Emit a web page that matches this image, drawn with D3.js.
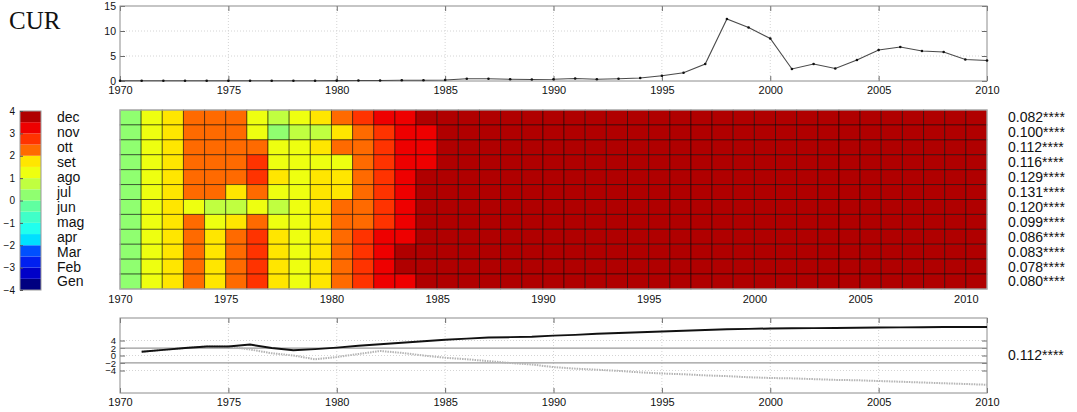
<!DOCTYPE html>
<html>
<head>
<meta charset="utf-8">
<script src="https://cdn.jsdelivr.net/npm/d3@7"></script>
<style>
  body { margin: 0; background: #fff; }
  svg { display: block; }
  text { font-family: "Liberation Sans", Arial, Helvetica, sans-serif; fill: #111; }
</style>
</head>
<body>
<svg id="chart" width="1077" height="412"></svg>
<script>
// ---- data -------------------------------------------------------------
const stationName = "CUR";

const years = d3.range(1970, 2011);                    // 1970 … 2010
const tickYears = [1970, 1975, 1980, 1985, 1990, 1995, 2000, 2005, 2010];

// annual series (top panel), 1970 … 2010
const annualValues = [
  0.05, 0.05, 0.05, 0.05, 0.05, 0.05, 0.05, 0.05, 0.05, 0.05,
  0.08, 0.10, 0.10, 0.15, 0.15, 0.20, 0.45, 0.45, 0.35, 0.30,
  0.35, 0.50, 0.35, 0.45, 0.60, 1.05, 1.65, 3.40, 12.4, 10.7,
  8.50, 2.40, 3.40, 2.50, 4.20, 6.20, 6.80, 6.00, 5.80, 4.30,
  4.10
];
const annualTicks = [0, 5, 10, 15];

// month rows of the heat map, top to bottom
const months = ["dec", "nov", "ott", "set", "ago", "jul", "jun", "mag", "apr", "Mar", "Feb", "Gen"];

// statistic per month (rows) and year (columns 1970 … 2010)
const monthlyStat = [
  [0.3,1.3,1.8,2.3,2.3,2.3,1.3,0.8,1.3,1.8,2.3,2.8,3.3,3.3,3.8, 3.8,3.8,3.8,3.8,3.8,3.8,3.8,3.8,3.8,3.8,3.8,3.8,3.8,3.8,3.8,3.8,3.8,3.8,3.8,3.8,3.8,3.8,3.8,3.8,3.8,3.8],
  [0.3,1.3,1.8,2.3,2.3,2.3,1.3,0.3,0.8,0.8,1.8,2.3,2.8,3.3,3.3, 3.8,3.8,3.8,3.8,3.8,3.8,3.8,3.8,3.8,3.8,3.8,3.8,3.8,3.8,3.8,3.8,3.8,3.8,3.8,3.8,3.8,3.8,3.8,3.8,3.8,3.8],
  [0.3,1.3,1.8,2.3,2.3,2.3,2.3,1.3,1.3,1.8,2.3,2.3,2.8,3.3,3.3, 3.8,3.8,3.8,3.8,3.8,3.8,3.8,3.8,3.8,3.8,3.8,3.8,3.8,3.8,3.8,3.8,3.8,3.8,3.8,3.8,3.8,3.8,3.8,3.8,3.8,3.8],
  [0.3,1.3,1.8,2.3,2.3,2.3,2.8,1.3,1.3,1.3,1.3,2.3,2.8,3.3,3.3, 3.8,3.8,3.8,3.8,3.8,3.8,3.8,3.8,3.8,3.8,3.8,3.8,3.8,3.8,3.8,3.8,3.8,3.8,3.8,3.8,3.8,3.8,3.8,3.8,3.8,3.8],
  [0.3,1.3,1.8,2.3,2.3,2.3,2.8,1.8,1.3,1.8,1.8,2.3,2.8,3.3,3.8, 3.8,3.8,3.8,3.8,3.8,3.8,3.8,3.8,3.8,3.8,3.8,3.8,3.8,3.8,3.8,3.8,3.8,3.8,3.8,3.8,3.8,3.8,3.8,3.8,3.8,3.8],
  [0.3,1.3,1.8,2.3,2.3,1.8,2.3,1.3,1.3,1.8,1.8,2.3,2.8,3.3,3.8, 3.8,3.8,3.8,3.8,3.8,3.8,3.8,3.8,3.8,3.8,3.8,3.8,3.8,3.8,3.8,3.8,3.8,3.8,3.8,3.8,3.8,3.8,3.8,3.8,3.8,3.8],
  [0.3,1.3,1.8,1.3,0.8,0.8,1.3,0.8,1.3,1.8,2.3,2.3,2.8,3.3,3.8, 3.8,3.8,3.8,3.8,3.8,3.8,3.8,3.8,3.8,3.8,3.8,3.8,3.8,3.8,3.8,3.8,3.8,3.8,3.8,3.8,3.8,3.8,3.8,3.8,3.8,3.8],
  [0.3,1.3,1.8,2.3,1.3,1.8,2.3,1.3,1.3,1.8,2.3,2.3,2.8,3.3,3.8, 3.8,3.8,3.8,3.8,3.8,3.8,3.8,3.8,3.8,3.8,3.8,3.8,3.8,3.8,3.8,3.8,3.8,3.8,3.8,3.8,3.8,3.8,3.8,3.8,3.8,3.8],
  [0.3,1.3,1.8,2.3,1.8,2.3,2.8,1.8,1.3,1.8,2.3,2.8,3.3,3.3,3.8, 3.8,3.8,3.8,3.8,3.8,3.8,3.8,3.8,3.8,3.8,3.8,3.8,3.8,3.8,3.8,3.8,3.8,3.8,3.8,3.8,3.8,3.8,3.8,3.8,3.8,3.8],
  [0.3,1.3,1.8,2.3,1.8,2.3,2.8,1.8,1.3,1.8,2.3,2.8,3.3,3.8,3.8, 3.8,3.8,3.8,3.8,3.8,3.8,3.8,3.8,3.8,3.8,3.8,3.8,3.8,3.8,3.8,3.8,3.8,3.8,3.8,3.8,3.8,3.8,3.8,3.8,3.8,3.8],
  [0.3,1.3,1.8,2.3,1.8,2.3,2.8,1.8,1.3,1.8,2.3,2.8,3.3,3.8,3.8, 3.8,3.8,3.8,3.8,3.8,3.8,3.8,3.8,3.8,3.8,3.8,3.8,3.8,3.8,3.8,3.8,3.8,3.8,3.8,3.8,3.8,3.8,3.8,3.8,3.8,3.8],
  [0.3,1.3,1.8,2.3,1.8,2.3,2.8,1.8,1.3,1.8,2.3,2.8,3.3,3.3,3.8, 3.8,3.8,3.8,3.8,3.8,3.8,3.8,3.8,3.8,3.8,3.8,3.8,3.8,3.8,3.8,3.8,3.8,3.8,3.8,3.8,3.8,3.8,3.8,3.8,3.8,3.8]
];
const monthlySlopes = ["0.082****", "0.100****", "0.112****", "0.116****", "0.129****", "0.131****",
                       "0.120****", "0.099****", "0.086****", "0.083****", "0.078****", "0.080****"];

// 16-step colour ramp for the range -4 … 4
const rampColors = [
  "#000080", "#0000c8", "#0020f0", "#0050ff", "#00e0ff", "#20ffee", "#40ffc8", "#60ffa0",
  "#90ff70", "#c0ff40", "#eeff10", "#ffe600", "#ff6a00", "#ff3300", "#ee0000", "#b00000"
];
const rampTicks = [4, 3, 2, 1, 0, -1, -2, -3, -4];

// sequential test series (bottom panel), 1971 … 2010
const seqYears = d3.range(1971, 2011);
const progressive = [
  1.0, 1.5, 2.0, 2.4, 2.4, 2.9, 2.0, 1.4, 1.7, 2.1,
  2.6, 3.0, 3.4, 3.8, 4.2, 4.5, 4.8, 4.9, 5.0, 5.3,
  5.5, 5.8, 6.0, 6.2, 6.4, 6.6, 6.8, 7.0, 7.1, 7.2,
  7.25, 7.3, 7.35, 7.4, 7.45, 7.5, 7.55, 7.6, 7.6, 7.6
];
const retrograde = [
  1.0, 1.5, 2.0, 2.4, 2.4, 1.6, 0.6, 0.0, -1.0, -0.4,
  0.4, 1.2, 0.7, 0.0, -0.6, -1.0, -1.5, -2.0, -2.4, -3.1,
  -3.5, -3.8, -4.1, -4.5, -4.8, -5.0, -5.3, -5.5, -5.8, -6.0,
  -6.1, -6.3, -6.5, -6.6, -6.8, -7.0, -7.2, -7.4, -7.6, -7.8
];
const seqTicks = [-4, -2, 0, 2, 4];
const seqGrid = [-4, 0, 4];
const seqLimits = [-1.96, 1.96];
const annualSlope = "0.112****";

// ---- layout -----------------------------------------------------------
const svg = d3.select("#chart");
const left = 120, right = 987;
const frameColor = "#8c8c8c", tickColor = "#6a6a6a", gridColor = "#d4d4d4";

const xLine = d3.scaleLinear().domain([1970, 2010]).range([left, right]);
const xHeat = d3.scaleLinear().domain([1970, 2011]).range([left, right]);

svg.append("text")
  .attr("x", 9).attr("y", 29)
  .style("font-family", "'Liberation Serif', 'Times New Roman', serif")
  .style("font-size", "25px")
  .text(stationName);

// framed line panel with inward ticks and dotted grid
function linePanel(top, bottom, y, yTickValues, yGridValues, yLabelSize) {
  const g = svg.append("g");
  // grid
  g.selectAll("line.vgrid").data(tickYears.slice(1, -1)).join("line")
    .attr("x1", d => xLine(d)).attr("x2", d => xLine(d))
    .attr("y1", top).attr("y2", bottom)
    .attr("stroke", gridColor).attr("stroke-dasharray", "1,2");
  g.selectAll("line.hgrid").data(yGridValues).join("line")
    .attr("x1", left).attr("x2", right)
    .attr("y1", d => y(d)).attr("y2", d => y(d))
    .attr("stroke", gridColor).attr("stroke-dasharray", "1,2");
  // inward ticks on all four sides
  const axB = d3.axisBottom(xLine).tickValues(tickYears).tickSize(-5).tickPadding(5).tickFormat(d3.format("d"));
  const axT = d3.axisTop(xLine).tickValues(tickYears).tickSize(-5).tickFormat("");
  const axL = d3.axisLeft(y).tickValues(yTickValues).tickSize(-5).tickPadding(4);
  const axR = d3.axisRight(y).tickValues(yTickValues).tickSize(-5).tickFormat("");
  const gb = g.append("g").attr("transform", `translate(0,${bottom})`).call(axB);
  const gt = g.append("g").attr("transform", `translate(0,${top})`).call(axT);
  const gl = g.append("g").attr("transform", `translate(${left},0)`).call(axL);
  const gr = g.append("g").attr("transform", `translate(${right},0)`).call(axR);
  [gb, gt, gl, gr].forEach(a => {
    a.select(".domain").remove();
    a.selectAll(".tick line").attr("stroke", tickColor);
    a.selectAll(".tick text").style("font-size", "11px").style("font-family", "'Liberation Sans', Arial, sans-serif").attr("fill", "#111");
  });
  gl.selectAll(".tick text").style("font-size", yLabelSize);
  g.append("rect")
    .attr("x", left).attr("y", top).attr("width", right - left).attr("height", bottom - top)
    .attr("fill", "none").attr("stroke", frameColor).attr("stroke-width", 1);
  return g;
}

// ---- top panel: annual series ----------------------------------------
const yTop = d3.scaleLinear().domain([0, 15]).range([81, 6]);
const topPanel = linePanel(6, 81, yTop, annualTicks, [5, 10], "10.5px");
topPanel.append("path")
  .datum(annualValues)
  .attr("fill", "none").attr("stroke", "#4a4a4a").attr("stroke-width", 1.1)
  .attr("d", d3.line().x((d, i) => xLine(years[i])).y(d => yTop(d)));
topPanel.selectAll("circle.pt").data(annualValues).join("circle")
  .attr("cx", (d, i) => xLine(years[i])).attr("cy", d => yTop(d))
  .attr("r", 1.3).attr("fill", "#111");

// ---- heat map -----------------------------------------------------------
const yHeat = d3.scaleBand().domain(months).range([110, 289]);
const color = d3.scaleQuantize().domain([-4, 4]).range(rampColors);

const cells = [];
monthlyStat.forEach((row, r) => row.forEach((v, c) => cells.push({ month: months[r], year: years[c], v })));

const heat = svg.append("g");
heat.selectAll("rect.cell").data(cells).join("rect")
  .attr("x", d => xHeat(d.year)).attr("y", d => yHeat(d.month))
  .attr("width", xHeat(1971) - xHeat(1970)).attr("height", yHeat.bandwidth())
  .attr("fill", d => color(Math.max(-3.99, Math.min(3.99, d.v))))
  .attr("stroke", "#000").attr("stroke-opacity", 0.5).attr("stroke-width", 1);
heat.append("rect")
  .attr("x", left).attr("y", 110).attr("width", right - left).attr("height", 179)
  .attr("fill", "none").attr("stroke", "#b8b8b8").attr("stroke-width", 1.2);

const heatAxis = d3.axisBottom(xHeat).tickValues(tickYears).tickSize(0).tickPadding(6).tickFormat(d3.format("d"));
const ha = svg.append("g").attr("transform", "translate(0,289)").call(heatAxis);
ha.select(".domain").remove();
ha.selectAll(".tick text").style("font-size", "11px").attr("fill", "#111");

// month names and per-month slopes
svg.selectAll("text.month").data(months).join("text")
  .attr("x", 57).attr("y", d => yHeat(d) + yHeat.bandwidth() / 2)
  .attr("dy", "0.35em").style("font-size", "14px").text(d => d);
svg.selectAll("text.slope").data(monthlySlopes).join("text")
  .attr("x", 1008).attr("y", (d, i) => yHeat(months[i]) + yHeat.bandwidth() / 2)
  .attr("dy", "0.35em").style("font-size", "14px").text(d => d);

// colour ramp
const yRamp = d3.scaleLinear().domain([-4, 4]).range([290, 111]);
const ramp = svg.append("g");
ramp.selectAll("rect").data(rampColors).join("rect")
  .attr("x", 20).attr("width", 21)
  .attr("y", (d, i) => yRamp(-4 + (i + 1) * 0.5))
  .attr("height", yRamp(-4) - yRamp(-3.5))
  .attr("fill", d => d);
ramp.append("rect").attr("x", 20).attr("y", 111).attr("width", 21).attr("height", 179)
  .attr("fill", "none").attr("stroke", "#9a9a9a").attr("stroke-width", 1);
const rampAxis = d3.axisLeft(yRamp).tickValues(rampTicks).tickSize(-3).tickPadding(5).tickFormat(d3.format("d"));
const ra = ramp.append("g").attr("transform", "translate(20,0)").call(rampAxis);
ra.select(".domain").remove();
ra.selectAll(".tick line").attr("stroke", "#555");
ra.selectAll(".tick text").style("font-size", "10px").attr("fill", "#111");

// ---- bottom panel: sequential test --------------------------------------
const yBot = d3.scaleLinear().domain([-10, 10]).range([393, 318]);
const botPanel = linePanel(318, 393, yBot, seqTicks, seqGrid, "9.5px");
botPanel.selectAll("line.limit").data(seqLimits).join("line")
  .attr("x1", left).attr("x2", right)
  .attr("y1", d => yBot(d)).attr("y2", d => yBot(d))
  .attr("stroke", "#9a9a9a").attr("stroke-width", 1.4);
botPanel.append("path")
  .datum(retrograde)
  .attr("fill", "none").attr("stroke", "#b4b4b4").attr("stroke-width", 2)
  .attr("stroke-dasharray", "1.5,1")
  .attr("d", d3.line().x((d, i) => xLine(seqYears[i])).y(d => yBot(d)));
botPanel.append("path")
  .datum(progressive)
  .attr("fill", "none").attr("stroke", "#111").attr("stroke-width", 2)
  .attr("d", d3.line().x((d, i) => xLine(seqYears[i])).y(d => yBot(d)));

svg.append("text")
  .attr("x", 1008).attr("y", yBot(0)).attr("dy", "0.35em")
  .style("font-size", "14px").text(annualSlope);
</script>
</body>
</html>
